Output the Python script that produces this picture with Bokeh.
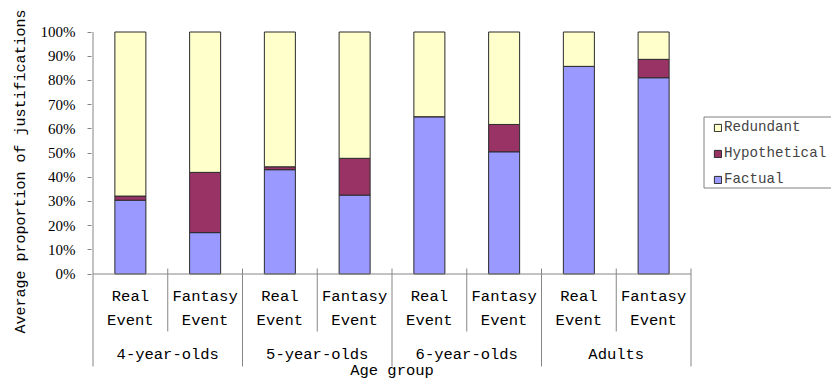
import numpy as np
from bokeh.plotting import figure
from bokeh.models import Range1d, FixedTicker, ColumnDataSource, Legend, LegendItem, Title
from bokeh.core.properties import value
from bokeh.embed import file_html
from bokeh.resources import INLINE

# ---------------- data ----------------
groups = ["4-year-olds", "5-year-olds", "6-year-olds", "Adults"]
conditions = ["Real Event", "Fantasy Event"]
factual = [30.5, 17.1, 43.1, 32.6, 65.0, 50.5, 85.8, 81.1]
hypothetical = [1.7, 24.9, 1.2, 15.2, 0.0, 11.3, 0.0, 7.6]
redundant = [67.8, 58.0, 55.7, 52.2, 35.0, 38.2, 14.2, 11.3]
series_names = ["Factual", "Hypothetical", "Redundant"]
series_colors = ["#9999FF", "#993366", "#FFFFCC"]
y_ticks = [0, 10, 20, 30, 40, 50, 60, 70, 80, 90, 100]
y_tick_labels = ["0%", "10%", "20%", "30%", "40%", "50%", "60%", "70%", "80%", "90%", "100%"]
y_axis_title = "Average proportion of justifications"
x_axis_title = "Age group"

# ---------------- geometry ----------------
W, H = 831, 386
FRAME_L = 91
X0, CAT_W = 92.5, 74.75       # pixel of category boundary 0, width of one category
Y0, PX_PER = 273.5, 2.42      # pixel of 0 %, pixels per percent


def dx(px):
    return (px - X0) / CAT_W


def dy(py):
    return (Y0 - py) / PX_PER


n_cond = len(conditions)
n = len(groups) * n_cond
cat_x = np.arange(n) + 0.5
cond_line1 = [conditions[i % n_cond].split(" ")[0] for i in range(n)]
cond_line2 = [conditions[i % n_cond].split(" ")[1] for i in range(n)]
group_x = np.arange(len(groups)) * n_cond + n_cond / 2

MONO = "Liberation Mono"
AXIS_GRAY = "#868686"

p = figure(width=W, height=H, output_backend="svg", toolbar_location=None,
           x_range=Range1d(dx(FRAME_L), dx(W)), y_range=Range1d(dy(H), dy(0)),
           x_axis_location=None,
           min_border_left=FRAME_L, min_border_right=0, min_border_top=0, min_border_bottom=0)
p.outline_line_color = None
p.xgrid.visible = False
p.ygrid.visible = False

# y axis: ticks and labels only, the line is drawn below with the separators
yax = p.yaxis[0]
yax.ticker = FixedTicker(ticks=y_ticks)
yax.major_label_overrides = {t: l for t, l in zip(y_ticks, y_tick_labels)}
yax.axis_line_color = None
yax.major_tick_out = 4
yax.major_tick_in = 0
yax.minor_tick_line_color = None
yax.major_tick_line_color = AXIS_GRAY
yax.major_label_standoff = 12
yax.major_label_text_font = "Liberation Serif"
yax.major_label_text_font_size = "15px"
yax.major_label_text_color = "black"

# y axis title: starts 53 px above the bottom of the frame
p.add_layout(Title(text=y_axis_title, align="left", offset=53, standoff=16,
                   text_font=MONO, text_font_size="15px", text_font_style="normal",
                   text_color="black"), "left")

# stacked bars
src = ColumnDataSource(dict(x=cat_x, Factual=factual, Hypothetical=hypothetical,
                            Redundant=redundant))
bars = p.vbar_stack(series_names, x="x", width=0.415, source=src,
                    fill_color=series_colors, line_color="#2b2b2b", line_width=1)

# category axis lines: baseline, y-axis line, separators
bx = np.arange(n + 1)
y_top = [100 if i == 0 else dy(268) for i in bx]
y_bot = [dy(366) if i % n_cond == 0 else dy(331) for i in bx]
p.segment(x0=bx, x1=bx, y0=y_top, y1=y_bot, line_color=AXIS_GRAY, line_width=1)
p.segment(x0=[0], x1=[n], y0=[0], y1=[0], line_color=AXIS_GRAY, line_width=1)

# category labels
p.text(x=cat_x, y=dy(296), text=cond_line1, text_font=value(MONO), text_font_size="15.5px",
       text_align="center", text_baseline="middle", text_color="black")
p.text(x=cat_x, y=dy(320), text=cond_line2, text_font=value(MONO), text_font_size="15.5px",
       text_align="center", text_baseline="middle", text_color="black")
p.text(x=group_x, y=dy(354), text=groups, text_font=value(MONO), text_font_size="15.5px",
       text_align="center", text_baseline="middle", text_color="black")
p.text(x=[n / 2], y=[dy(370)], text=[x_axis_title], text_font=value(MONO),
       text_font_size="15.5px", text_align="center", text_baseline="middle", text_color="black")

# legend box and legend
p.quad(left=[dx(703.5)], right=[dx(850)], top=[dy(116.5)], bottom=[dy(187.5)],
       fill_color="white", line_color="#808080", line_width=1)
legend = Legend(items=[LegendItem(label=name, renderers=[r])
                       for name, r in reversed(list(zip(series_names, bars)))],
                location=(713 - FRAME_L, H - 187), padding=4, spacing=10,
                glyph_width=9, glyph_height=9, label_height=14, label_standoff=2,
                label_text_font=MONO, label_text_font_size="14.2px",
                border_line_color=None, background_fill_alpha=0, margin=0)
p.add_layout(legend)

open("out.html", "w").write(file_html(p, INLINE))
